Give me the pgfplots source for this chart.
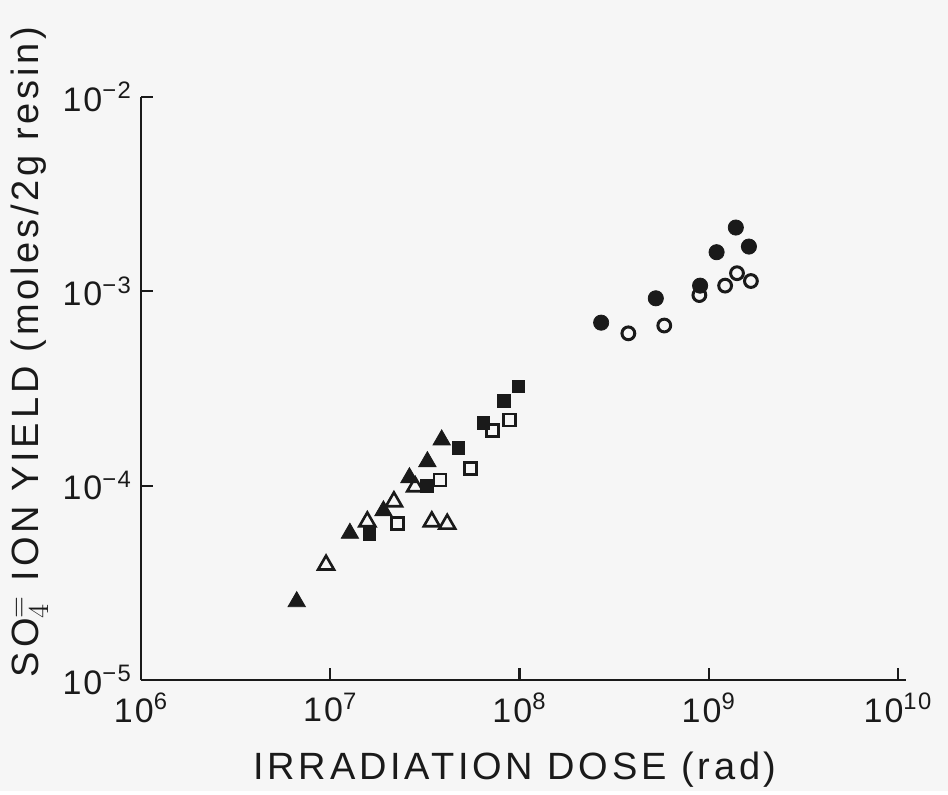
\documentclass[border=0pt]{standalone}
\usepackage{fontspec}
\setmainfont{Liberation Sans}
\newfontfamily\labelfont[LetterSpace=10]{Liberation Sans}
\newfontfamily\tickfont[LetterSpace=6]{Liberation Sans}
\usepackage{pgfplots}
\pgfplotsset{compat=1.18}
\usetikzlibrary{backgrounds}
\definecolor{ink}{HTML}{1A1A1A}
\definecolor{paper}{HTML}{F6F6F6}

% data (dose in rad, yield in moles/2g resin)
\pgfplotstableread{
x y
6.65e6 2.53e-5
1.27e7 5.69e-5
1.91e7 7.43e-5
2.62e7 1.10e-4
3.26e7 1.33e-4
3.88e7 1.72e-4
}\trifill
\pgfplotstableread{
x y
9.5e6  3.91e-5
1.57e7 6.53e-5
2.17e7 8.28e-5
2.81e7 9.88e-5
3.44e7 6.53e-5
4.15e7 6.35e-5
}\triopen
\pgfplotstableread{
x y
1.61e7 5.64e-5
3.24e7 9.96e-5
4.75e7 1.56e-4
6.44e7 2.11e-4
8.28e7 2.74e-4
9.87e7 3.24e-4
}\sqfill
\pgfplotstableread{
x y
2.26e7 6.40e-5
3.80e7 1.07e-4
5.52e7 1.23e-4
7.21e7 1.92e-4
8.83e7 2.18e-4
}\sqopen
\pgfplotstableread{
x y
2.70e8 6.90e-4
5.25e8 9.21e-4
9.0e8  1.07e-3
1.10e9 1.59e-3
1.39e9 2.13e-3
1.63e9 1.70e-3
}\cirfill
\pgfplotstableread{
x y
3.76e8 6.08e-4
5.82e8 6.67e-4
8.92e8 9.57e-4
1.22e9 1.07e-3
1.41e9 1.24e-3
1.67e9 1.13e-3
}\ciropen

\begin{document}
\begin{tikzpicture}
\begin{loglogaxis}[
  name=ax,
  scale only axis,
  width=378.5pt, height=291.5pt,
  xmin=1e6, xmax=1e10,
  ymin=1e-5, ymax=1e-2,
  axis x line=bottom, axis y line=left,
  axis line style={ink, line width=1.2pt, -},
  x axis line style={shorten >=-4pt},
  xtick={1e6,1e7,1e8,1e9,1e10},
  ytick={1e-5,1e-4,1e-3,1e-2},
  xticklabels={10\textsuperscript{6},10\textsuperscript{7},10\textsuperscript{8},10\textsuperscript{9},10\textsuperscript{10}},
  yticklabels={10\textsuperscript{−5},10\textsuperscript{−4},10\textsuperscript{−3},10\textsuperscript{−2}},
  minor tick num=0,
  xminorticks=false, yminorticks=false,
  tick align=inside,
  major tick length=6pt,
  tick style={ink, line width=1.1pt},
  tick label style={font=\tickfont\fontsize{17}{20}\selectfont, text=ink},
  xticklabel style={yshift=-3pt},
  yticklabel style={xshift=-1pt},
  label style={font=\labelfont\fontsize{19}{23}\selectfont, text=ink},
  xlabel={IRRADIATION DOSE (rad)},
  ylabel={SO$_4^{=}$ ION YIELD (moles/2g resin)},
  xlabel style={at={(axis description cs:0.494,-0.154)}, anchor=center},
  ylabel style={at={(axis description cs:-0.147,0.563)}, anchor=center},
  clip=false,
]
\addplot[only marks, mark=triangle*, mark size=5pt, ink, mark options={fill=ink}] table {\trifill};
\addplot[only marks, mark=triangle, mark size=4.6pt, ink, mark options={line width=1.3pt, fill=paper}] table {\triopen};
\addplot[only marks, mark=square*, mark size=3.2pt, ink, mark options={fill=ink}] table {\sqfill};
\addplot[only marks, mark=square, mark size=3pt, ink, mark options={line width=1.3pt, fill=paper}] table {\sqopen};
\addplot[only marks, mark=*, mark size=3.8pt, ink, mark options={fill=ink}] table {\cirfill};
\addplot[only marks, mark=o, mark size=3.2pt, ink, mark options={line width=1.5pt, fill=paper}] table {\ciropen};
\end{loglogaxis}
\path[use as bounding box] ([shift={(-70.5pt,-55.5pt)}]ax.south west) rectangle ([shift={(25pt,48.5pt)}]ax.north east);
\begin{scope}[on background layer]
\fill[paper] ([shift={(-70.5pt,-55.5pt)}]ax.south west) rectangle ([shift={(25pt,48.5pt)}]ax.north east);
\end{scope}
\end{tikzpicture}
\end{document}
